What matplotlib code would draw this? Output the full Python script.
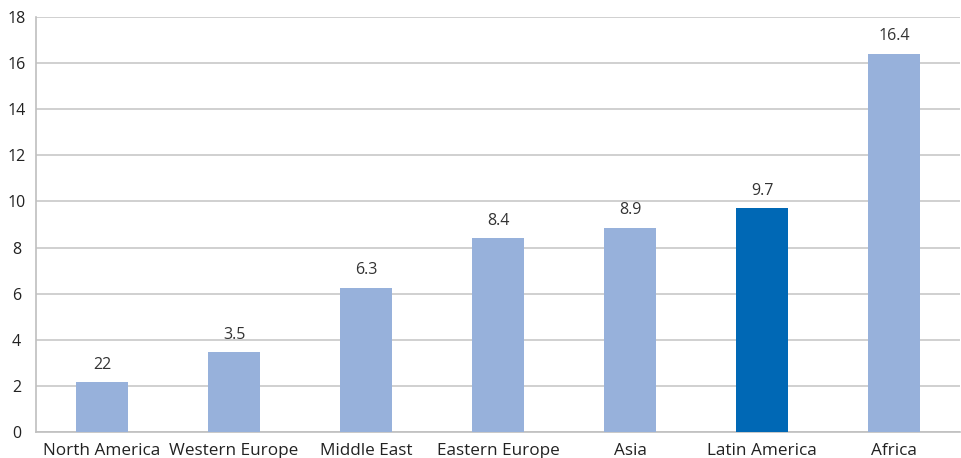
import matplotlib
matplotlib.use("Agg")
import matplotlib.pyplot as plt

categories = ["North America", "Western Europe", "Middle East", "Eastern Europe", "Asia", "Latin America", "Africa"]
values = [2.15, 3.45, 6.25, 8.4, 8.85, 9.7, 16.4]
labels = ["22", "3.5", "6.3", "8.4", "8.9", "9.7", "16.4"]
highlight = "Latin America"

plt.rcParams['font.family'] = ['Open Sans', 'DejaVu Sans']

fig = plt.figure(figsize=(9.61, 4.58), dpi=100)
ax = fig.add_axes([36/961, 1 - 432/458, 924/961, 415/458])

colors = ["#0068B5" if c == highlight else "#97B1DB" for c in categories]
x = list(range(len(categories)))
ax.bar(x, values, width=0.4, color=colors, zorder=3)
for xi, v, lab in zip(x, values, labels):
    ax.annotate(lab, (xi, v), xytext=(0, 7), textcoords="offset points",
                ha="center", va="bottom", fontsize=11.5, color="#333333")

ax.set_xlim(-0.5, len(categories) - 0.5)
ax.set_ylim(0, 18)
ax.set_yticks(range(0, 19, 2))
ax.set_xticks(x)
ax.set_xticklabels(categories)
ax.grid(axis="y", color="#C8C8C8", linewidth=1.2, zorder=0)
for s in ["top", "right"]:
    ax.spines[s].set_visible(False)
for s in ["left", "bottom"]:
    ax.spines[s].set_color("#BFBFBF")
    ax.spines[s].set_linewidth(1.2)
ax.tick_params(axis="both", length=0, labelsize=12.3, colors="#222222")
ax.tick_params(axis="y", labelsize=11.5, pad=14)
for t in ax.get_yticklabels():
    t.set_horizontalalignment("center")
ax.tick_params(axis="x", pad=8)

fig.savefig("out.png", dpi=100)
